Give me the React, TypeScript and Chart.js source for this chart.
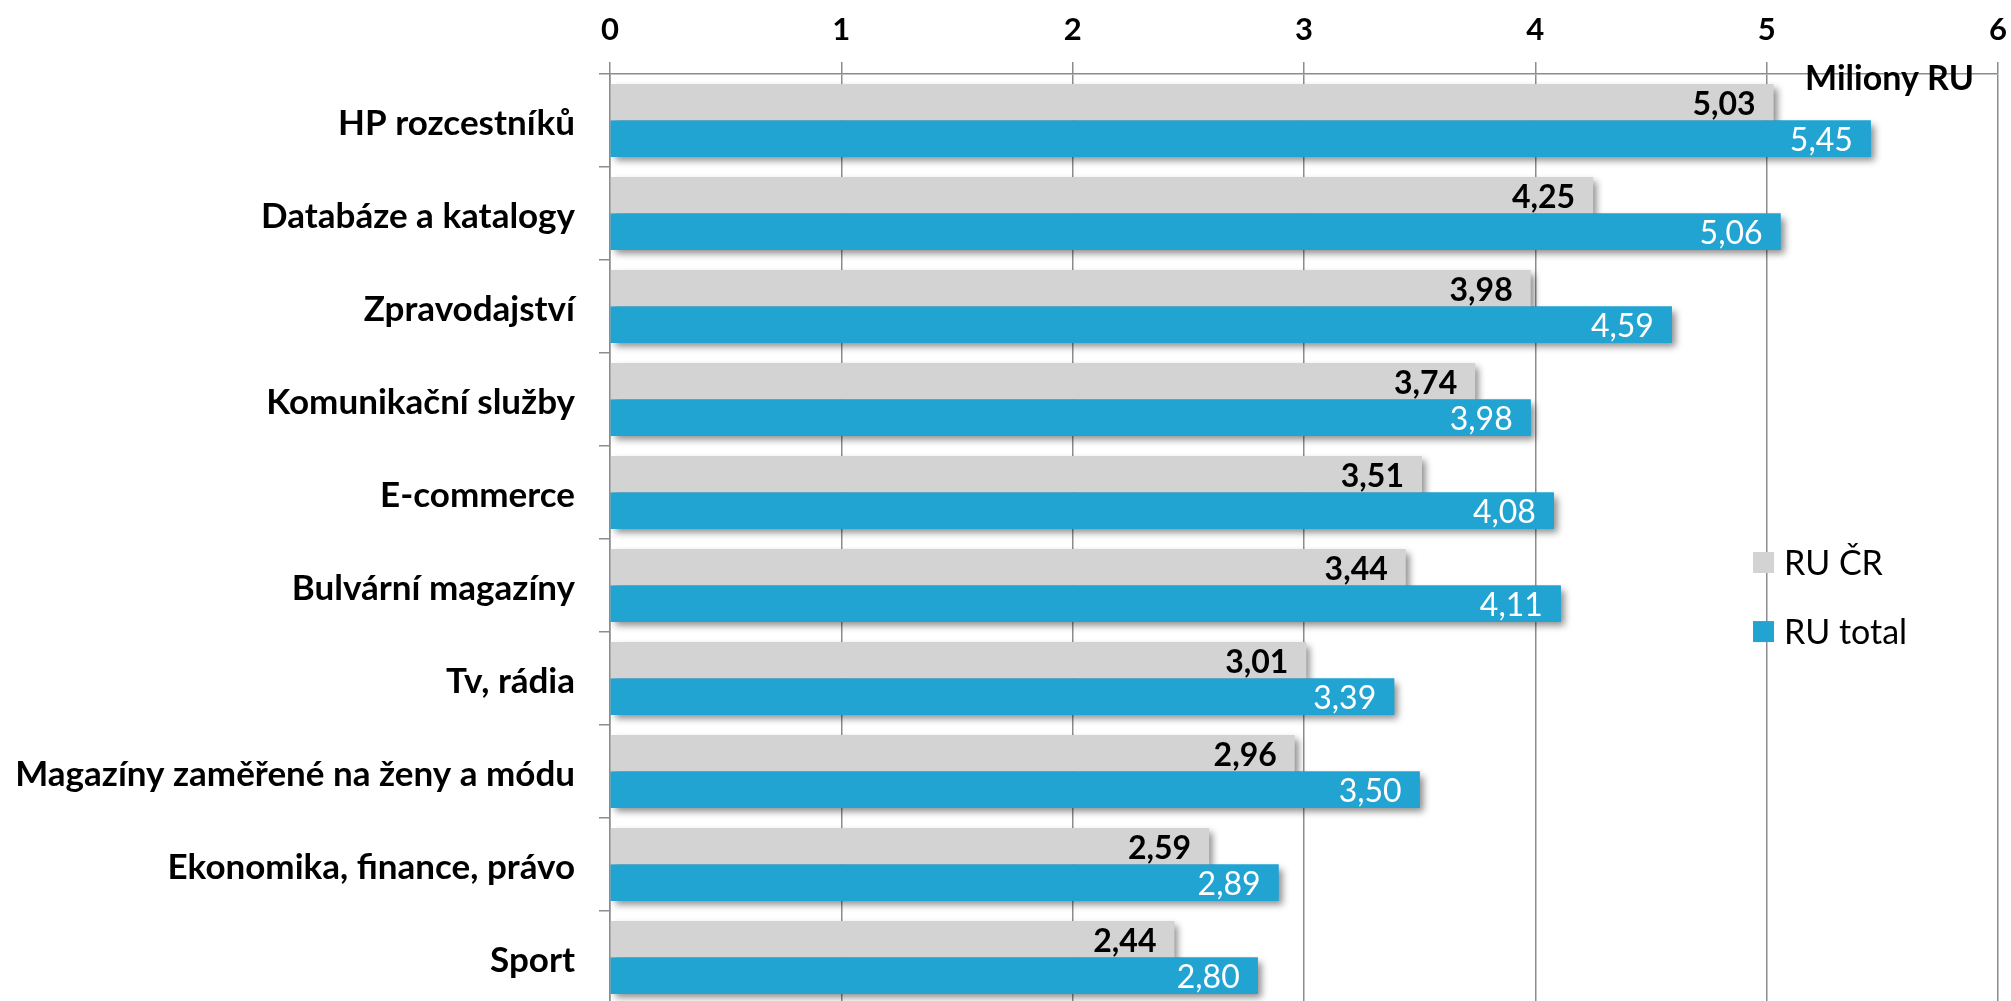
import React, { useEffect, useRef } from "react";
import { Chart, registerables } from "chart.js";

Chart.register(...registerables);

const categories = [
  "HP rozcestníků",
  "Databáze a katalogy",
  "Zpravodajství",
  "Komunikační služby",
  "E-commerce",
  "Bulvární magazíny",
  "Tv, rádia",
  "Magazíny zaměřené na ženy a módu",
  "Ekonomika, finance, právo",
  "Sport",
];
const ruCR = [5.03, 4.25, 3.98, 3.74, 3.51, 3.44, 3.01, 2.96, 2.59, 2.44];
const ruTotal = [5.45, 5.06, 4.59, 3.98, 4.08, 4.11, 3.39, 3.5, 2.89, 2.8];
const seriesNames = ["RU ČR", "RU total"];
const seriesColors = ["#D3D3D3", "#22A4D3"];
const axisTitle = "Miliony RU";
const xMin = 0;
const xMax = 6;

const FONT = "Lato, 'Open Sans', sans-serif";
const GRID = "#8c8c8c";

const fmt = (v: number) => v.toFixed(2).replace(".", ",");

const shadowPlugin = {
  id: "barShadow",
  beforeDatasetDraw(chart: any) {
    const ctx = chart.ctx;
    ctx.save();
    ctx.shadowColor = "rgba(0,0,0,0.45)";
    ctx.shadowBlur = 7;
    ctx.shadowOffsetX = 4;
    ctx.shadowOffsetY = 4;
  },
  afterDatasetDraw(chart: any) {
    chart.ctx.restore();
  },
};

const labelsPlugin = {
  id: "valueLabels",
  afterDatasetsDraw(chart: any) {
    const ctx = chart.ctx;
    ctx.save();
    // repaint the lower series so the upper bar's shadow does not fall on it
    chart.getDatasetMeta(1).data.forEach((el: any) => el.draw(ctx));
    ctx.textAlign = "right";
    ctx.textBaseline = "middle";
    chart.data.datasets.forEach((ds: any, i: number) => {
      const meta = chart.getDatasetMeta(i);
      ctx.font = i === 0 ? `bold 32px ${FONT}` : `32px ${FONT}`;
      ctx.fillStyle = i === 0 ? "#000000" : "#ffffff";
      meta.data.forEach((el: any, j: number) => {
        ctx.fillText(fmt(ds.data[j]), el.x - 18, el.y + 2);
      });
    });
    ctx.restore();
  },
  afterDraw(chart: any) {
    const ctx = chart.ctx;
    const a = chart.chartArea;
    ctx.save();
    // axis title
    ctx.font = `bold 34px ${FONT}`;
    ctx.fillStyle = "#000";
    ctx.textAlign = "right";
    ctx.textBaseline = "middle";
    ctx.fillText(axisTitle, a.right - 24, a.top + 5);
    // legend
    const lx = a.left + (a.right - a.left) * 0.8235;
    const ys = [0.5247, 0.599].map((f) => a.top + (a.bottom - a.top) * f);
    ctx.textAlign = "left";
    ctx.font = `34px ${FONT}`;
    seriesNames.forEach((n, i) => {
      ctx.fillStyle = seriesColors[i];
      ctx.fillRect(lx, ys[i] - 10, 21, 21);
      ctx.fillStyle = "#000";
      ctx.fillText(n, lx + 31, ys[i] + 2);
    });
    ctx.restore();
  },
};

export default function App() {
  const ref = useRef<HTMLCanvasElement | null>(null);
  useEffect(() => {
    if (!ref.current) return;
    const chart = new Chart(ref.current, {
      type: "bar",
      data: {
        labels: categories,
        datasets: [
          {
            label: seriesNames[0],
            data: ruCR,
            backgroundColor: seriesColors[0],
            categoryPercentage: 0.785,
            barPercentage: 1,
          },
          {
            label: seriesNames[1],
            data: ruTotal,
            backgroundColor: seriesColors[1],
            categoryPercentage: 0.785,
            barPercentage: 1,
          },
        ],
      },
      options: {
        indexAxis: "y",
        animation: false,
        responsive: false,
        layout: { padding: { top: 0, right: 13, bottom: 7, left: 0 } },
        plugins: { legend: { display: false }, tooltip: { enabled: false } },
        scales: {
          x: {
            position: "top",
            min: xMin,
            max: xMax,
            ticks: {
              stepSize: 1,
              color: "#000",
              font: { family: FONT, size: 31, weight: "bold" },
              padding: 13,
            },
            grid: { color: GRID, lineWidth: 1.5, tickLength: 12, drawTicks: true },
            border: { display: true, color: GRID, width: 1.5 },
            afterFit: (s: any) => {
              s.height = 74;
              s.paddingLeft = 0;
              s.paddingRight = 0;
            },
          },
          y: {
            ticks: {
              color: "#000",
              font: { family: FONT, size: 35, weight: "bold" },
              padding: 24,
              autoSkip: false,
              labelOffset: 3,
            },
            grid: {
              color: GRID,
              lineWidth: 1.5,
              drawOnChartArea: false,
              drawTicks: true,
              tickLength: 11,
              offset: true,
            },
            border: { display: true, color: GRID, width: 1.5 },
            afterFit: (s: any) => {
              s.width = 610;
              s.paddingTop = 0;
              s.paddingBottom = 0;
            },
          },
        },
      },
      plugins: [shadowPlugin, labelsPlugin],
    });
    return () => chart.destroy();
  }, []);
  return (
    <div
      style={{
        position: "fixed",
        left: 0,
        top: 0,
        width: 2011,
        height: 1001,
        overflow: "hidden",
        background: "#fff",
      }}
    >
      <canvas ref={ref} width={2011} height={1011} style={{ display: "block" }} />
    </div>
  );
}
